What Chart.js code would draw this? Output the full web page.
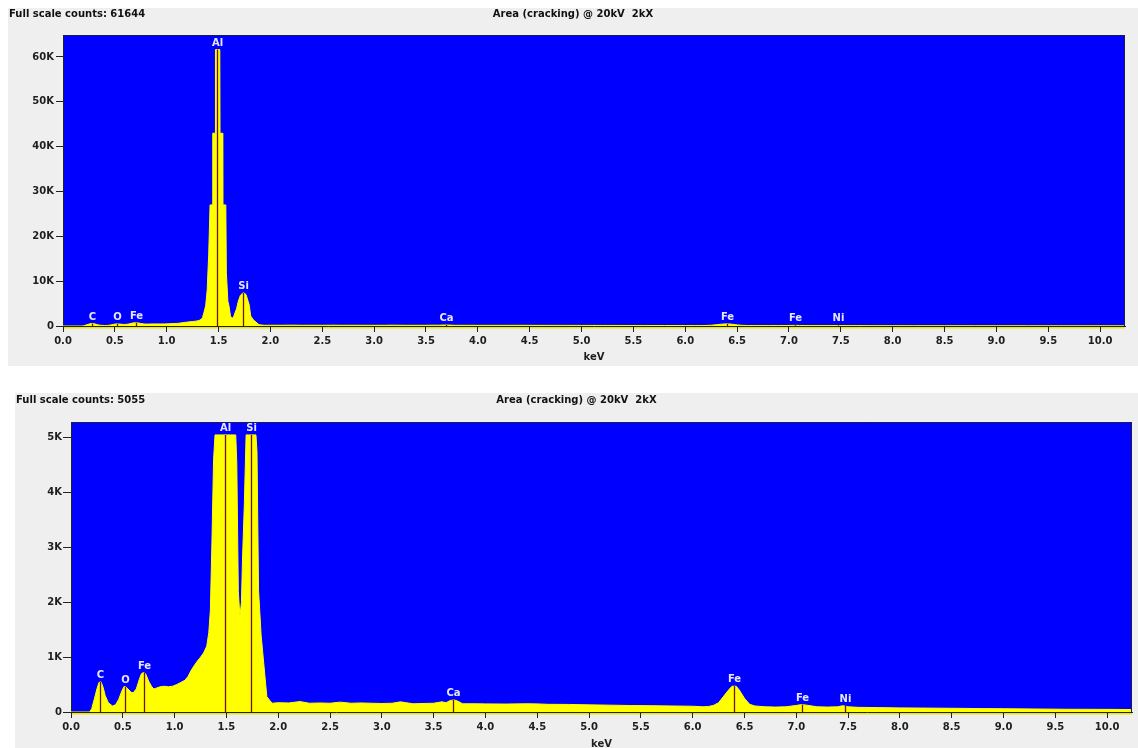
<!DOCTYPE html>
<html>
<head>
<meta charset="utf-8">
<script src="https://cdn.jsdelivr.net/npm/chart.js@4.4.1/dist/chart.umd.min.js"></script>
<style>
html,body{margin:0;padding:0;background:#ffffff;width:1138px;height:748px;overflow:hidden;position:relative;font-family:"DejaVu Sans",sans-serif;}
.panel{position:absolute;background:#efefef;overflow:hidden;}
#p1{left:8px;top:8px;width:1130px;height:358px;}
#p2{left:15px;top:393px;width:1123px;height:355px;}
.panel canvas{position:absolute;left:0;top:0;}
.hdr{position:absolute;font:bold 10px "DejaVu Sans",sans-serif;color:#111;white-space:pre;line-height:12px;z-index:2;}
.ttl{left:0;right:0;text-align:center;}
</style>
</head>
<body>
<div class="panel" id="p1">
  <div class="hdr" id="h1" style="left:1px;top:0px;"></div>
  <div class="hdr ttl" id="t1" style="top:0px;"></div>
  <canvas id="c1" width="1130" height="358"></canvas>
</div>
<div class="panel" id="p2">
  <div class="hdr" id="h2" style="left:1px;top:1px;"></div>
  <div class="hdr ttl" id="t2" style="top:1px;"></div>
  <canvas id="c2" width="1123" height="357"></canvas>
</div>
<script>
// ---------- DATA ----------
const spectrumTitle = 'Area (cracking) @ 20kV  2kX';
const fullScaleTop = 61644;
const fullScaleBottom = 5055;

// energy channels (keV)
const energies = [
  0.00, 0.18, 0.20, 0.22, 0.25, 0.27, 0.29, 0.31, 0.33, 0.36,
  0.40, 0.43, 0.46, 0.49, 0.51, 0.53, 0.55, 0.58, 0.60, 0.63,
  0.66, 0.68, 0.70, 0.72, 0.75, 0.78, 0.80, 0.83, 0.86, 0.90,
  0.94, 0.98, 1.02, 1.06, 1.10, 1.13, 1.16, 1.19, 1.22, 1.25,
  1.28, 1.31, 1.33, 1.345, 1.36, 1.376, 1.39, 1.405, 1.418, 1.442,
  1.444, 1.468, 1.470, 1.512, 1.514, 1.538, 1.540, 1.570, 1.575, 1.59,
  1.60, 1.615, 1.63, 1.645, 1.655, 1.673, 1.69, 1.71, 1.73, 1.745,
  1.765, 1.785, 1.795, 1.81, 1.835, 1.86, 1.89, 1.94, 2.00, 2.10,
  2.21, 2.30, 2.40, 2.50, 2.60, 2.70, 2.80, 2.90, 3.00, 3.10,
  3.18, 3.30, 3.50, 3.58, 3.62, 3.66, 3.70, 3.73, 3.78, 3.90,
  4.00, 4.20, 4.40, 4.50, 4.60, 4.80, 5.00, 5.20, 5.40, 5.60,
  5.80, 6.00, 6.10, 6.15, 6.20, 6.25, 6.30, 6.35, 6.38, 6.42,
  6.45, 6.50, 6.55, 6.60, 6.70, 6.80, 6.90, 7.00, 7.05, 7.10,
  7.20, 7.30, 7.40, 7.45, 7.50, 7.60, 7.80, 8.00, 8.20, 8.50,
  8.80, 9.00, 9.30, 9.60, 10.00, 10.24
];
// counts per channel
const counts = [
  0, 0, 60, 200, 420, 540, 550, 450, 300, 170,
  110, 130, 230, 380, 460, 460, 420, 360, 350, 420,
  600, 700, 720, 700, 560, 460, 420, 440, 460, 470,
  460, 470, 500, 540, 580, 650, 760, 850, 930, 1000,
  1080, 1200, 1450, 1860, 3080, 4600, 8000, 16000, 27000, 27000,
  43000, 43000, 61644, 61644, 43000, 43000, 27000, 27000, 12000, 5500,
  4540, 2200, 1740, 2000, 2770, 3800, 5500, 6800, 7300, 7400,
  7000, 5500, 4750, 2220, 1400, 890, 280, 160, 170, 165,
  190, 160, 165, 160, 180, 160, 165, 160, 155, 160,
  185, 150, 160, 185, 170, 210, 220, 200, 150, 150,
  148, 145, 150, 148, 140, 138, 130, 125, 118, 115,
  110, 105, 95, 100, 120, 170, 290, 410, 470, 470,
  400, 250, 140, 110, 95, 90, 95, 120, 135, 125,
  95, 90, 95, 115, 95, 85, 80, 75, 72, 68,
  62, 60, 55, 50, 48, 45
];

// element line markers
const elementNames   = ['C', 'O', 'Fe', 'Al', 'Si', 'Ca', 'Fe', 'Fe', 'Ni'];
const elementKeV     = [0.277, 0.525, 0.705, 1.486, 1.740, 3.690, 6.400, 7.058, 7.470];
const elementHeights = [550, 460, 720, 61644, 7400, 220, 470, 135, 115];

// axes ticks
const xTicks = [0,0.5,1,1.5,2,2.5,3,3.5,4,4.5,5,5.5,6,6.5,7,7.5,8,8.5,9,9.5,10];
const yTicksTop = [0,10000,20000,30000,40000,50000,60000];
const yTicksBottom = [0,1000,2000,3000,4000,5000];
const xLabel = 'keV';

// ---------- HEADERS ----------
document.getElementById('h1').textContent = 'Full scale counts: ' + fullScaleTop;
document.getElementById('h2').textContent = 'Full scale counts: ' + fullScaleBottom;
document.getElementById('t1').textContent = spectrumTitle;
document.getElementById('t2').textContent = spectrumTitle;

// ---------- CHARTS ----------
const FONT = 'DejaVu Sans';
Chart.defaults.font.family = FONT;

const plotBg = {
  id: 'plotBg',
  beforeDraw(chart) {
    const {ctx, chartArea: a} = chart;
    ctx.save();
    ctx.fillStyle = '#0000ff';
    ctx.fillRect(a.left, a.top, a.right - a.left, a.bottom - a.top);
    ctx.fillStyle = '#e8e800';
    ctx.fillRect(a.left, a.bottom, a.right - a.left, 2.5);
    ctx.restore();
  },
  afterDraw(chart) {
    const {ctx, chartArea: a} = chart;
    ctx.save();
    ctx.strokeStyle = '#1c1c55';
    ctx.lineWidth = 1;
    ctx.beginPath();
    ctx.moveTo(a.left, a.top + 0.5);
    ctx.lineTo(a.right - 0.5, a.top + 0.5);
    ctx.lineTo(a.right - 0.5, a.bottom);
    ctx.stroke();
    ctx.restore();
  }
};

const markers = {
  id: 'markers',
  afterDatasetsDraw(chart, args, opts) {
    const {ctx, scales: {x, y}} = chart;
    ctx.save();
    elementKeV.forEach((e, i) => {
      const h = Math.min(elementHeights[i], opts.cap);
      const px = Math.round(x.getPixelForValue(e)) + 0.5;
      const py0 = y.getPixelForValue(0);
      const py1 = y.getPixelForValue(h);
      ctx.strokeStyle = '#6a1414';
      ctx.lineWidth = 1.3;
      ctx.beginPath();
      ctx.moveTo(px, py0);
      ctx.lineTo(px, py1);
      ctx.stroke();
      ctx.fillStyle = '#e6e6ff';
      ctx.font = 'bold 10px "' + FONT + '"';
      ctx.textAlign = 'center';
      ctx.textBaseline = 'alphabetic';
      ctx.fillText(elementNames[i], px, py1 - 4);
    });
    ctx.restore();
  }
};

function kfmt(v) { return v === 0 ? '0' : (v / 1000) + 'K'; }

function makeChart(id, cap, yMax, yTicks, pad, yWidth, xHeight, yTickLen, yPad, titlePadBottom) {
  const data = energies.map((e, i) => ({x: e, y: Math.min(counts[i], cap)}));
  return new Chart(document.getElementById(id), {
    type: 'line',
    data: {
      datasets: [{
        data: data,
        borderColor: '#ffff00',
        backgroundColor: '#ffff00',
        borderWidth: 1,
        pointRadius: 0,
        tension: 0,
        fill: 'origin'
      }]
    },
    options: {
      responsive: false,
      animation: false,
      devicePixelRatio: 1,
      layout: {padding: pad},
      plugins: {
        legend: {display: false},
        tooltip: {enabled: false},
        markers: {cap: cap}
      },
      scales: {
        x: {
          type: 'linear',
          min: 0,
          max: 10.24,
          afterBuildTicks: s => { s.ticks = xTicks.map(v => ({value: v})); },
          afterFit: s => { s.height = xHeight; },
          ticks: {
            callback: v => Number(v).toFixed(1),
            font: {family: FONT, weight: 'bold', size: 10},
            color: '#1e1e1e',
            padding: 3,
            maxRotation: 0,
            autoSkip: false
          },
          grid: {display: true, drawOnChartArea: false, drawTicks: true, tickLength: 6, color: '#222', lineWidth: 1},
          border: {display: true, color: '#222', width: 1},
          title: {
            display: true,
            text: xLabel,
            font: {family: FONT, weight: 'bold', size: 10},
            color: '#1e1e1e',
            padding: {top: 0, bottom: titlePadBottom}
          }
        },
        y: {
          min: 0,
          max: yMax,
          afterBuildTicks: s => { s.ticks = yTicks.map(v => ({value: v})); },
          afterFit: s => { s.width = yWidth; },
          ticks: {
            callback: v => kfmt(v),
            font: {family: FONT, weight: 'bold', size: 10},
            color: '#1e1e1e',
            padding: yPad,
            autoSkip: false
          },
          grid: {display: true, drawOnChartArea: false, drawTicks: true, tickLength: yTickLen, color: '#222', lineWidth: 1},
          border: {display: true, color: '#222', width: 1}
        }
      }
    },
    plugins: [plotBg, markers]
  });
}

makeChart('c1', fullScaleTop, 64900, yTicksTop, {left: 0, right: 13, top: 27, bottom: 0}, 55, 40, 7, 2, 3);
makeChart('c2', fullScaleBottom, 5290, yTicksBottom, {left: 0, right: 6, top: 29, bottom: 0}, 56, 38, 8, 1, 0);
</script>
</body>
</html>
